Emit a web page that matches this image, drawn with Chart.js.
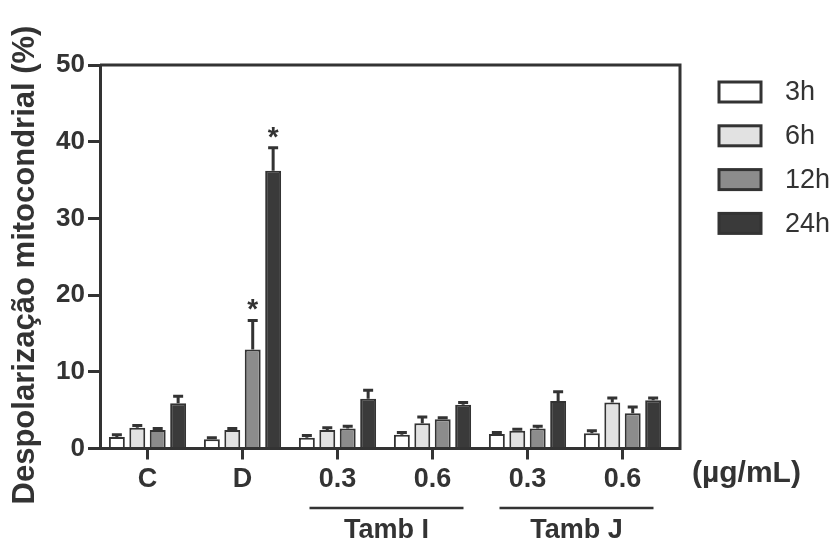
<!DOCTYPE html>
<html>
<head>
<meta charset="utf-8">
<script src="https://cdn.jsdelivr.net/npm/chart.js@4.4.1/dist/chart.umd.min.js"></script>
<style>
  html, body { margin: 0; padding: 0; background: #fff; }
  #wrap { width: 839px; height: 552px; }
</style>
</head>
<body>
<div id="wrap"><canvas id="resultsChart" width="839" height="552"></canvas></div>
<script>
// doses on the x axis, grouped by extract below
const categories = ['C', 'D', '0.3', '0.6', '0.3', '0.6'];
const seriesLabels = ['3h', '6h', '12h', '24h'];

// mean mitochondrial depolarization (%) per time point
const values3h  = [1.5, 1.2, 1.4, 1.8, 1.9, 2.0];
const values6h  = [2.7, 2.4, 2.4, 3.3, 2.3, 6.0];
const values12h = [2.4, 12.9, 2.6, 3.8, 2.6, 4.6];
const values24h = [5.9, 36.2, 6.5, 5.7, 6.2, 6.3];

// standard errors
const err3h  = [0.3, 0.2, 0.3, 0.3, 0.2, 0.3];
const err6h  = [0.3, 0.2, 0.3, 0.8, 0.2, 0.6];
const err12h = [0.2, 3.8, 0.3, 0.2, 0.3, 0.8];
const err24h = [0.9, 3.0, 1.1, 0.3, 1.2, 0.3];

// significance marks: [datasetIndex, categoryIndex]
const starred = [[2, 1], [3, 1]];

const yTicks = [0, 10, 20, 30, 40, 50];

const groups = [
    { label: 'Tamb I', from: 2, to: 3 },
    { label: 'Tamb J', from: 4, to: 5 }
];

const ink = '#333333';
const fontFamily = '"Liberation Sans", Arial, sans-serif';
const fills = ['#ffffff', '#e2e2e2', '#8c8c8c', '#3a3a3a'];
const allValues = [values3h, values6h, values12h, values24h];
const allErrors = [err3h, err6h, err12h, err24h];

const frameExtra = 10; // the box extends a little past the last group

const extrasPlugin = {
    id: 'extras',
    afterDatasetsDraw(chart) {
        const ctx = chart.ctx;
        const x = chart.scales.x, y = chart.scales.y;
        const area = chart.chartArea;
        ctx.save();
        ctx.strokeStyle = ink;
        ctx.lineCap = 'butt';

        // error bars
        ctx.lineWidth = 3;
        chart.data.datasets.forEach((ds, di) => {
            const meta = chart.getDatasetMeta(di);
            meta.data.forEach((bar, i) => {
                const top = y.getPixelForValue(ds.data[i]);
                const hi = y.getPixelForValue(ds.data[i] + allErrors[di][i]);
                ctx.beginPath();
                ctx.moveTo(bar.x, top);
                ctx.lineTo(bar.x, hi);
                ctx.moveTo(bar.x - 5, hi);
                ctx.lineTo(bar.x + 5, hi);
                ctx.stroke();
            });
        });

        // asterisks
        ctx.fillStyle = ink;
        ctx.font = 'bold 28px ' + fontFamily;
        ctx.textAlign = 'center';
        ctx.textBaseline = 'middle';
        starred.forEach(([di, i]) => {
            const bar = chart.getDatasetMeta(di).data[i];
            const ds = chart.data.datasets[di];
            const hi = y.getPixelForValue(ds.data[i] + allErrors[di][i]);
            ctx.fillText('*', bar.x, hi - 10);
        });

        // frame: top, right, and bottom extension
        ctx.lineWidth = 3;
        ctx.beginPath();
        ctx.moveTo(area.left, area.top);
        ctx.lineTo(area.right + frameExtra, area.top);
        ctx.lineTo(area.right + frameExtra, area.bottom);
        ctx.lineTo(area.right, area.bottom);
        ctx.stroke();

        // unit label
        ctx.font = 'bold 30px ' + fontFamily;
        ctx.textAlign = 'left';
        ctx.fillText('(\u00b5g/mL)', 692, 474);

        // extract groups under the doses
        ctx.font = 'bold 27px ' + fontFamily;
        ctx.lineWidth = 2.5;
        groups.forEach(g => {
            const x0 = x.getPixelForValue(g.from) - 28;
            const x1 = x.getPixelForValue(g.to) + 31;
            ctx.beginPath();
            ctx.moveTo(x0, 508);
            ctx.lineTo(x1, 508);
            ctx.stroke();
            ctx.textAlign = 'center';
            ctx.fillText(g.label, (x0 + x1) / 2, 531);
        });

        // y axis title
        ctx.save();
        ctx.translate(25, 265);
        ctx.rotate(-Math.PI / 2);
        ctx.font = 'bold 31px ' + fontFamily;
        ctx.fillText('Despolariza\u00e7\u00e3o mitocondrial (%)', 0, 0);
        ctx.restore();

        // legend
        ctx.font = '27px ' + fontFamily;
        ctx.textAlign = 'left';
        chart.data.datasets.forEach((ds, di) => {
            const cy = 92 + di * 43.8;
            ctx.fillStyle = ds.backgroundColor;
            ctx.fillRect(719, cy - 10, 42, 20);
            ctx.lineWidth = 3;
            ctx.strokeRect(719, cy - 10, 42, 20);
            ctx.fillStyle = ink;
            ctx.fillText(ds.label, 785, cy + 1);
        });
        ctx.restore();
    }
};

const ctx = document.getElementById('resultsChart').getContext('2d');
new Chart(ctx, {
    type: 'bar',
    data: {
        labels: categories,
        datasets: seriesLabels.map((label, di) => ({
            label: label,
            data: allValues[di],
            backgroundColor: fills[di],
            borderColor: ink,
            borderWidth: 2,
            borderSkipped: 'bottom',
            categoryPercentage: 0.86,
            barPercentage: 0.78
        }))
    },
    options: {
        responsive: false,
        animation: false,
        layout: { padding: { top: 65, right: 169, bottom: 0, left: 0 } },
        plugins: { legend: { display: false }, tooltip: { enabled: false } },
        scales: {
            x: {
                afterFit: s => { s.height = 103.5; },
                grid: {
                    offset: false,
                    drawOnChartArea: false,
                    tickLength: 11,
                    color: ink,
                    lineWidth: 3
                },
                border: { color: ink, width: 3 },
                ticks: {
                    color: ink,
                    padding: 4,
                    font: { family: fontFamily, size: 27, weight: 'bold' }
                }
            },
            y: {
                min: 0,
                max: 50,
                afterFit: s => { s.width = 100; },
                afterBuildTicks: s => { s.ticks = yTicks.map(v => ({ value: v })); },
                grid: {
                    drawOnChartArea: false,
                    tickLength: 12,
                    color: ink,
                    lineWidth: 3
                },
                border: { color: ink, width: 3 },
                ticks: {
                    color: ink,
                    padding: 3,
                    font: { family: fontFamily, size: 26, weight: 'bold' }
                }
            }
        }
    },
    plugins: [extrasPlugin]
});
</script>
</body>
</html>
